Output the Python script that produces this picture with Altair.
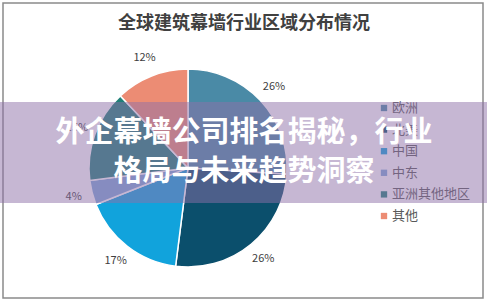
import altair as alt
import pandas as pd

regions = ["欧洲", "北美", "中国", "中东", "亚洲其他地区", "其他"]
shares = [26, 26, 17, 4, 15, 12]
labels = ["26%", "26%", "17%", "4%", "15%", "12%"]
colors = ["#4a8aa6", "#0b4f6c", "#11a3dc", "#7fa8d8", "#1f8078", "#ec8c74"]

title_text = "全球建筑幕墙行业区域分布情况"
overlay_lines = ["外企幕墙公司排名揭秘，行业", "格局与未来趋势洞察"]

W, H = 487, 303
CX, CY = 188, 168
FONT = "Noto Sans CJK SC"

df = pd.DataFrame({
    "region": regions,
    "share": shares,
    "label": labels,
    "order": list(range(len(regions))),
})

color = alt.Color("region:N", scale=alt.Scale(domain=regions, range=colors), legend=None)
base = alt.Chart(df)

one = pd.DataFrame({"k": [0]})

border = alt.Chart(one).mark_rect(fill="white", stroke="#8a8a8a", strokeWidth=1.5).encode(
    x=alt.value(3), x2=alt.value(483), y=alt.value(3), y2=alt.value(298)
)

title = alt.Chart(pd.DataFrame({"t": [title_text]})).mark_text(
    font=FONT, fontSize=18, fontWeight="bold", color="#404040", align="center", baseline="middle"
).encode(x=alt.value(244), y=alt.value(24), text="t:N")

pie = base.mark_arc(outerRadius=99, stroke="white", strokeWidth=1.5).encode(
    theta=alt.Theta("share:Q", stack=True),
    order=alt.Order("order:Q"),
    color=color,
    x=alt.value(CX), y=alt.value(CY),
)

pie_labels = base.mark_text(radius=118, font=FONT, fontSize=11, color="#404040").encode(
    theta=alt.Theta("share:Q", stack=True),
    order=alt.Order("order:Q"),
    text="label:N",
    x=alt.value(CX), y=alt.value(CY),
)

leg_y = alt.Y("order:Q", scale=alt.Scale(domain=[0, 5], range=[108, 216]), axis=None)
leg_sq = base.mark_square(size=40, opacity=1).encode(
    x=alt.value(384), y=leg_y, color=color
)
leg_txt = base.mark_text(font=FONT, fontSize=13, color="#595959", align="left", baseline="middle").encode(
    x=alt.value(392), y=leg_y, text="region:N"
)

band = alt.Chart(one).mark_rect(fill="#8e6fa8", opacity=0.5).encode(
    x=alt.value(0), x2=alt.value(W), y=alt.value(102), y2=alt.value(203)
)

ov = pd.DataFrame({"t": overlay_lines, "i": [0, 1]})
overlay = alt.Chart(ov).mark_text(
    font=FONT, fontSize=29, fontWeight="bold", color="white", align="center", baseline="middle"
).encode(
    x=alt.value(244),
    y=alt.Y("i:Q", scale=alt.Scale(domain=[0, 1], range=[133, 172]), axis=None),
    text="t:N",
)

chart = alt.layer(border, title, pie, pie_labels, leg_sq, leg_txt, band, overlay).resolve_scale(
    y="independent"
).properties(
    width=W, height=H, padding=0, autosize=alt.AutoSizeParams(type="none")
).configure_view(stroke=None)

chart.save("out.html", embed_options={"renderer": "svg", "actions": False})
